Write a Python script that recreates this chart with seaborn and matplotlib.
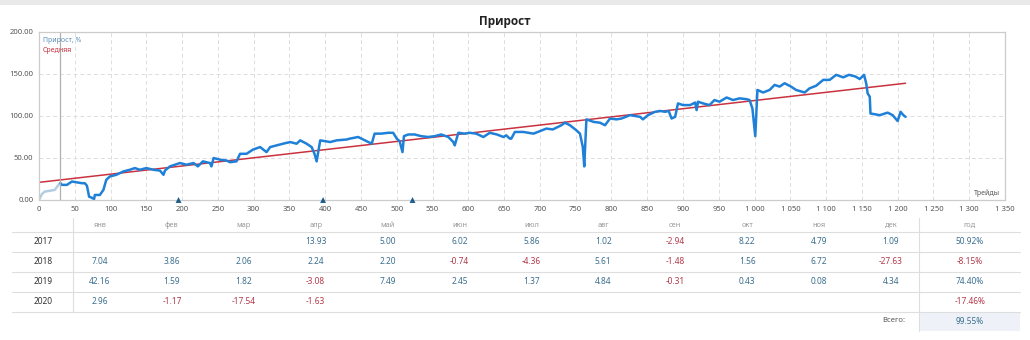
import matplotlib
matplotlib.use("Agg")
import matplotlib.pyplot as plt
import seaborn as sns
import pandas as pd
from matplotlib.lines import Line2D
from matplotlib.patches import Rectangle

# ---------------- data ----------------
pre_trades = [0, 4, 8, 15, 22, 29, 30]
pre_vals = [0, 7, 10, 11, 12, 20, 20]

main_trades = [30, 32, 39, 46, 53, 60, 64, 67, 70, 73, 77, 78, 85, 90, 94, 99, 108, 118, 127, 134,
               141, 150, 160, 169, 174, 176, 183, 190, 197, 206, 216, 222, 229, 239, 241, 244, 253,
               262, 267, 276, 281, 290, 299, 309, 318, 323, 332, 341, 351, 360, 365, 374, 381, 385,
               388, 393, 407, 416, 430, 434, 446, 453, 460, 465, 469, 478, 488, 495, 500, 504, 508,
               510, 516, 525, 534, 544, 553, 562, 572, 579, 581, 586, 595, 602, 611, 621, 630, 640,
               649, 653, 658, 660, 665, 677, 691, 697, 709, 718, 730, 735, 742, 751, 756, 760, 762,
               765, 775, 784, 791, 798, 807, 814, 826, 840, 844, 851, 861, 868, 875, 880, 884, 889,
               893, 900, 910, 917, 919, 921, 928, 937, 944, 951, 961, 970, 979, 989, 993, 997, 1001,
               1004, 1012, 1021, 1028, 1035, 1042, 1051, 1058, 1070, 1077, 1086, 1096, 1105, 1114,
               1124, 1132, 1141, 1147, 1153, 1156, 1158, 1161, 1162, 1175, 1186, 1193, 1200, 1204,
               1208, 1211]
main_vals = [20, 18, 18, 22, 21, 20, 20, 17, 4, 3, 1, 6, 6, 12, 24, 28, 30, 34, 36, 38,
             36, 38, 36, 35, 30, 35, 40, 42, 44, 42, 44, 40, 46, 44, 40, 50, 48,
             47, 45, 46, 55, 55, 60, 63, 57, 63, 65, 67, 69, 67, 71, 67, 63, 55,
             46, 71, 69, 71, 72, 73, 75, 72, 69, 67, 79, 79, 80, 80, 73, 70, 57,
             76, 78, 78, 76, 75, 76, 78, 75, 69, 65, 80, 79, 80, 79, 75, 80, 78,
             75, 77, 73, 73, 81, 81, 79, 81, 85, 84, 89, 92, 89, 83, 79, 63, 40,
             96, 93, 92, 89, 97, 96, 97, 101, 99, 96, 101, 105, 106, 105, 106, 97, 99,
             115, 113, 113, 116, 107, 117, 115, 113, 119, 117, 122, 119, 121, 120, 119, 109, 76,
             131, 128, 131, 137, 135, 139, 135, 131, 128, 133, 136, 143, 143, 149,
             146, 149, 147, 144, 149, 139, 127, 123, 103, 101, 104, 101, 94, 105,
             101, 99]

avg_trades = [0, 1211]
avg_vals = [21, 139]

marker_trades = [195, 397, 522]
start_trade = 30

x_ticks = list(range(0, 1351, 50))
y_ticks = [0, 50, 100, 150, 200]

months = ["янв", "фев", "мар", "апр", "май", "июн", "июл", "авг", "сен", "окт", "ноя", "дек"]
years = ["2017", "2018", "2019", "2020"]
r2017 = [None, None, None, "13.93", "5.00", "6.02", "5.86", "1.02", "-2.94", "8.22", "4.79", "1.09"]
r2018 = ["7.04", "3.86", "2.06", "2.24", "2.20", "-0.74", "-4.36", "5.61", "-1.48", "1.56", "6.72", "-27.63"]
r2019 = ["42.16", "1.59", "1.82", "-3.08", "7.49", "2.45", "1.37", "4.84", "-0.31", "0.43", "0.08", "4.34"]
r2020 = ["2.96", "-1.17", "-17.54", "-1.63", None, None, None, None, None, None, None, None]
year_totals = ["50.92%", "-8.15%", "74.40%", "-17.46%"]
grand_total = "99.55%"

# ---------------- style ----------------
sns.set_theme(style="white")
plt.rcParams['font.family'] = ['Noto Sans', 'DejaVu Sans']

BLUE = "#1f80d8"
LIGHT = "#b3cde0"
RED = "#c9323e"
POS = "#3b6f8e"
NEG = "#b33a4a"

W, H = 1030, 340
fig = plt.figure(figsize=(W / 100, H / 100), dpi=100)
fig.patch.set_facecolor("white")

def fx(px):
    return px / W

def fy(py):
    return 1 - py / H

# top gray band
fig.add_artist(Rectangle((0, fy(5)), 1, 5 / H, transform=fig.transFigure, color="#e9e9e9", lw=0))

ax = fig.add_axes([fx(39), fy(200), fx(1005) - fx(39), fy(32) - fy(200)])

df_pre = pd.DataFrame({"x": pre_trades, "y": pre_vals})
df_main = pd.DataFrame({"x": main_trades, "y": main_vals})
df_avg = pd.DataFrame({"x": avg_trades, "y": avg_vals})

sns.lineplot(data=df_pre, x="x", y="y", ax=ax, color=LIGHT, lw=1.8, sort=False, estimator=None)
sns.lineplot(data=df_avg, x="x", y="y", ax=ax, color=RED, lw=1.1, sort=False, estimator=None)
sns.lineplot(data=df_main, x="x", y="y", ax=ax, color=BLUE, lw=1.8, sort=False, estimator=None)
ax.axvline(start_trade, color="#b0b0b0", lw=0.9)
sns.scatterplot(x=marker_trades, y=[0] * len(marker_trades), ax=ax, marker="^", s=18,
                color="#1d5d8c", edgecolor="none", clip_on=False, zorder=5)

ax.set_xlim(0, 1350)
ax.set_ylim(0, 200)
ax.set_xticks(x_ticks)
ax.set_xticklabels([f"{v:,}".replace(",", " ") for v in x_ticks])
ax.set_yticks(y_ticks)
ax.set_yticklabels([f"{v:.2f}" for v in y_ticks])
ax.tick_params(axis="both", length=0, labelsize=5.5, labelcolor="#555555", pad=4)
ax.grid(True, color="#dddddd", ls=(0, (4, 3)), lw=0.7)
ax.set_axisbelow(True)
for s in ax.spines.values():
    s.set_color("#cccccc")
    s.set_linewidth(0.9)
ax.set_xlabel("")
ax.set_ylabel("")

ax.text(0.004, 0.95, "Прирост, %", transform=ax.transAxes, fontsize=5, color="#5b8db8", va="center")
ax.text(0.004, 0.89, "Средняя", transform=ax.transAxes, fontsize=5, color=RED, va="center")
ax.text(0.995, 0.04, "Трейды", transform=ax.transAxes, fontsize=5, color="#555555", ha="right", va="center")

fig.text(fx(505), fy(21), "Прирост", fontsize=8.5, fontweight="bold", color="#222222",
         ha="center", va="center", family=["Open Sans", "DejaVu Sans"])

# ---------------- table ----------------
col_x = [100 + 71.9 * i for i in range(12)]
year_x = 43
total_x = 970
row_y = [241, 261, 281, 301]
header_y = 225.5

for i, m in enumerate(months):
    fig.text(fx(col_x[i]), fy(header_y), m, fontsize=5.3, color="#999999", ha="center", va="center")
fig.text(fx(total_x), fy(header_y), "год", fontsize=5.3, color="#999999", ha="center", va="center")

rows = [r2017, r2018, r2019, r2020]
for r, (yr, vals) in enumerate(zip(years, rows)):
    yy = fy(row_y[r])
    fig.text(fx(year_x), yy, yr, fontsize=6, color="#333333", ha="center", va="center")
    for i, v in enumerate(vals):
        if v is None:
            continue
        c = NEG if v.startswith("-") else POS
        fig.text(fx(col_x[i]), yy, v, fontsize=6, color=c, ha="center", va="center")
    t = year_totals[r]
    fig.text(fx(total_x), yy, t, fontsize=6, color=NEG if t.startswith("-") else POS,
             ha="center", va="center")

# total row
fig.add_artist(Rectangle((fx(919), fy(331)), fx(1020) - fx(919), (331 - 311.7) / H,
                         transform=fig.transFigure, color="#eef2f8", lw=0))
fig.text(fx(905), fy(321), "Всего:", fontsize=5.5, color="#555555", ha="right", va="center")
fig.text(fx(total_x), fy(321), grand_total, fontsize=6, color=POS, ha="center", va="center")

LINEC = "#dedede"
for yy in [231.7, 251.7, 271.7, 291.7, 311.7]:
    fig.add_artist(Line2D([fx(12), fx(1020)], [fy(yy), fy(yy)], transform=fig.transFigure,
                          color=LINEC, lw=0.8))
fig.add_artist(Line2D([fx(73), fx(73)], [fy(218), fy(311.7)], transform=fig.transFigure,
                      color=LINEC, lw=0.8))
fig.add_artist(Line2D([fx(919), fx(919)], [fy(218), fy(331)], transform=fig.transFigure,
                      color=LINEC, lw=0.8))

fig.savefig("out.png", dpi=100, facecolor="white")
